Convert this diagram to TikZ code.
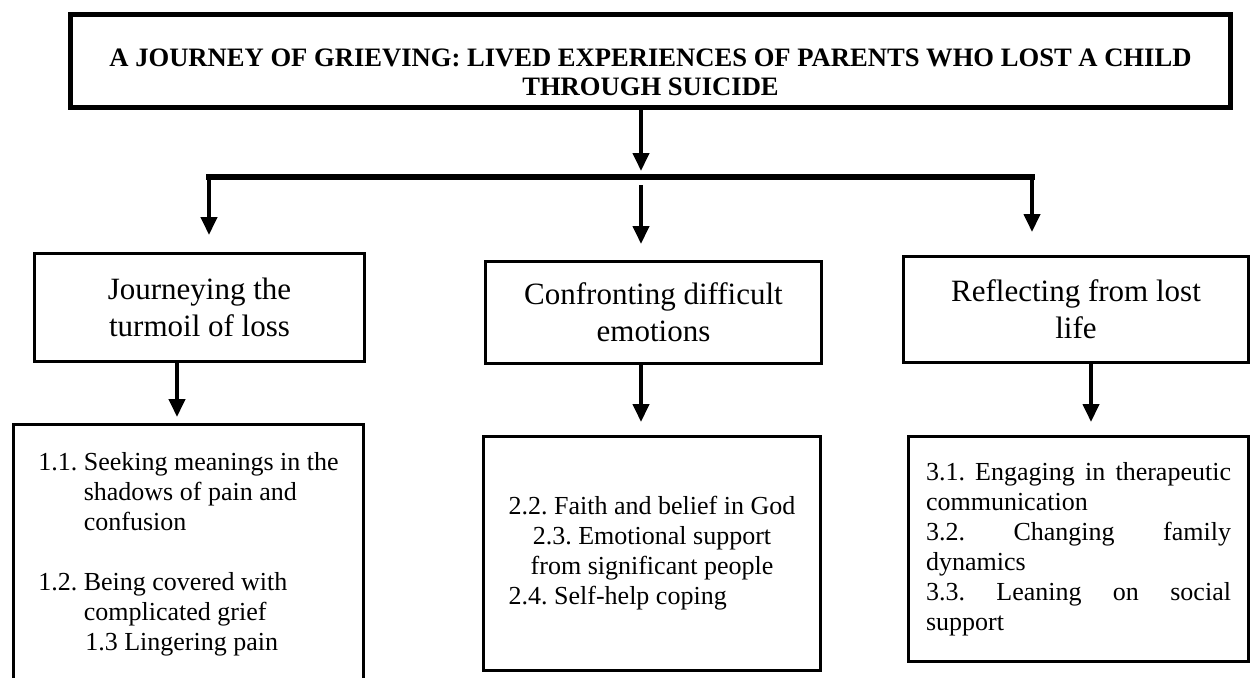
\documentclass[tikz,border=0pt]{standalone}
\usepackage{fontspec}
\setmainfont{Liberation Serif}
\usetikzlibrary{arrows.meta}
\tikzset{
        titlebox/.style={draw,line width=2.5pt,align=center,inner sep=0pt,
                         font=\bfseries\fontsize{13.3}{14.5}\selectfont},
        theme/.style={draw,line width=1.6pt,align=center,inner sep=0pt,
                      font=\fontsize{15.5}{18.5}\selectfont},
        sub/.style={draw,line width=1.6pt,inner sep=0pt,
                    font=\fontsize{13}{15}\selectfont},
        arr/.style={line width=2pt,-{Triangle[width=8pt,length=9pt]}},
        bar/.style={line width=2.75pt,line cap=rect}
        }
\frenchspacing

\begin{document}
\begin{tikzpicture}[x=0.5pt,y=-0.5pt]
    \useasboundingbox (0,0) rectangle (1251,677);
    % title of the study
    \node[titlebox,minimum width=580pt,minimum height=46.5pt] (title) at (650.5,61)
        {\rule{0pt}{20pt}A JOURNEY OF GRIEVING: LIVED EXPERIENCES OF PARENTS WHO LOST A CHILD\\THROUGH SUICIDE};

    % the three themes
    \node[theme,minimum width=165pt,minimum height=54pt] (th1) at (199.5,307.5)
        {Journeying the\\turmoil of loss};
    \node[theme,minimum width=168pt,minimum height=51pt] (th2) at (653.5,312.5)
        {Confronting difficult\\emotions};
    \node[theme,minimum width=172.5pt,minimum height=53pt] (th3) at (1076,309.5)
        {Reflecting from lost\\life};

    % the sub-themes under each theme
    \node[sub,minimum width=175pt,minimum height=129.5pt] (st1) at (188.5,554)
        {\begin{tabular}{@{}l@{ }l@{}}
            1.1. & Seeking meanings in the\\
                 & shadows of pain and\\
                 & confusion\\[15pt]
            1.2. & Being covered with\\
                 & complicated grief\\
            \multicolumn{2}{@{\hspace{23.5pt}}l@{}}{1.3 Lingering pain}
         \end{tabular}};
    \node[sub,minimum width=168.5pt,minimum height=117pt] (st2) at (652,553.5)
        {\begin{tabular}{@{}l@{}}
            2.2. Faith and belief in God\\
            \multicolumn{1}{@{}c@{}}{2.3. Emotional support}\\
            \multicolumn{1}{@{}c@{}}{from significant people}\\
            2.4. Self-help coping
         \end{tabular}};
    \node[sub,minimum width=170pt,minimum height=112.5pt] (st3) at (1078.5,549) {};
    \node[text width=152.5pt,align=justify,inner sep=0pt,
          font=\fontsize{13}{15}\selectfont] (st3txt) at (st3.center)
        {\hyphenpenalty=10000\relax
         3.1. Engaging in therapeutic communication\par
         3.2. Changing family\linebreak dynamics\par
         3.3. Leaning on social\linebreak support};

    % split point under the title and the tips of the arrows
    \coordinate (hub) at (641,171);
    \coordinate (barL) at (209,177);
    \coordinate (barR) at (1032,177);
    \coordinate (midtop) at (641,185);
    \coordinate (tip1) at (209,235);
    \coordinate (tip2) at (641,244);
    \coordinate (tip3) at (1032,232);

    % title down to the bar
    \draw[arr] (title.south -| hub) -- (hub);
    \draw[bar] (barL) -- (barR);
    \draw[arr] (barL) -- (tip1);
    \draw[arr] (midtop) -- (tip2);
    \draw[arr] (barR) -- (tip3);

    % themes down to their sub-themes
    \coordinate (down1) at (177,417);
    \coordinate (down2) at (641,422);
    \coordinate (down3) at (1091,422);
    \draw[arr] (th1.south -| down1) -- (down1);
    \draw[arr] (th2.south -| down2) -- (down2);
    \draw[arr] (th3.south -| down3) -- (down3);
\end{tikzpicture}
\end{document}
